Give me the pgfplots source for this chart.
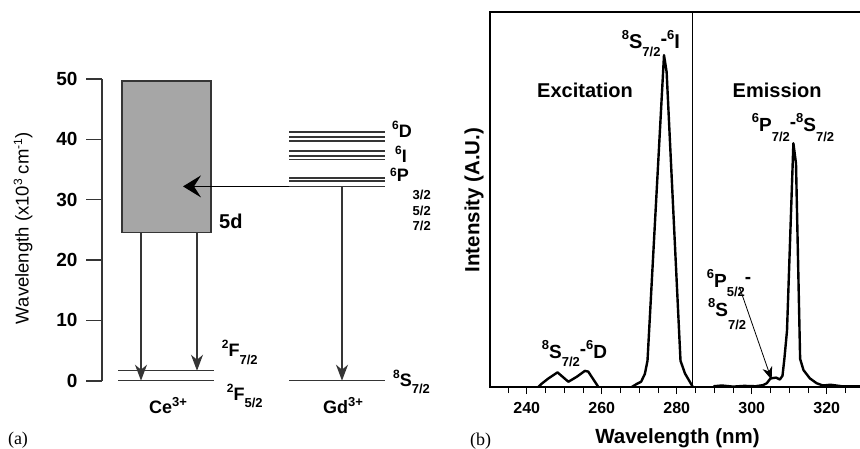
\documentclass[border=0pt]{standalone}
\usepackage{pgfplots}
\pgfplotsset{compat=1.18}
\usepackage{fontspec}
\setmainfont{Liberation Sans}
\newfontfamily\seriffont{Liberation Serif}
\usetikzlibrary{arrows.meta}
\definecolor{lev}{HTML}{353535}
\definecolor{boxfill}{HTML}{A6A6A6}
\newcommand{\fs}[1]{\fontsize{#1}{#1}\selectfont}
\begin{document}
\begin{tikzpicture}[x=1pt,y=1pt]
\path[use as bounding box] (0,0) rectangle (860,448);
\clip (0,0) rectangle (860,448);
% ---------------- panel (a)
\begin{axis}[
  at={(102pt,67.3pt)}, anchor=south west,
  scale only axis, width=328pt, height=301.7pt,
  xmin=102, xmax=430, ymin=0, ymax=50,
  clip=false, no markers,
  axis x line=none, axis y line=left,
  axis line style={-, line width=1.6pt, lev},
  ytick={0,10,20,30,40,50},
  tick align=outside, major tick length=16pt,
  every tick/.style={line width=1.6pt, lev},
  yticklabel style={font=\bfseries\fs{19}, xshift=-5pt},
  /pgf/number format/assume math mode=true,
]
\addplot[draw=lev, line width=1.4pt, fill=boxfill] coordinates {(122,24.6) (211,24.6) (211,49.7) (122,49.7)} --cycle;
\addplot[lev, line width=1.4pt] coordinates {(118,0) (214,0)};
\addplot[lev, line width=1.4pt] coordinates {(118,1.65) (214,1.65)};
\addplot[lev, line width=1.4pt] coordinates {(289,0) (385,0)};
\foreach \v in {41.2,40.4,39.7,38.1,37.25,36.65,33.6,33.1,32.2}{
  \addplot[lev, line width=1.4pt] coordinates {(289,\v) (385,\v)};
}
\addplot[lev, line width=1.3pt, -{Stealth[length=16pt,width=12pt,inset=5pt]}] coordinates {(141,24.6) (141,0)};
\addplot[lev, line width=1.3pt, -{Stealth[length=16pt,width=12pt,inset=5pt]}] coordinates {(197,24.6) (197,1.65)};
\addplot[lev, line width=1.3pt, -{Stealth[length=16pt,width=12pt,inset=5pt]}] coordinates {(342,32.2) (342,0)};
\addplot[black, line width=1.3pt, -{Stealth[length=18pt,width=22pt,inset=7pt]}] coordinates {(289,32.2) (183,32.2)};
\end{axis}
\node[anchor=base west, inner sep=0, font=\bfseries\fs{18}] at (392,310) {\raisebox{8pt}{\fs{12}6}D};
\node[anchor=base west, inner sep=0, font=\bfseries\fs{18}] at (395,285) {\raisebox{8pt}{\fs{12}6}I};
\node[anchor=base west, inner sep=0, font=\bfseries\fs{18}] at (390,266.5) {\raisebox{4.5pt}{\fs{12}6}P};
\node[anchor=base west, inner sep=0, font=\bfseries\fs{13}] at (412.5,248) {3/2};
\node[anchor=base west, inner sep=0, font=\bfseries\fs{13}] at (412.5,233) {5/2};
\node[anchor=base west, inner sep=0, font=\bfseries\fs{13}] at (412.5,218) {7/2};
\node[anchor=base west, inner sep=0, font=\bfseries\fs{20}] at (219,219.7) {5d};
\node[anchor=base west, inner sep=0, font=\bfseries\fs{18}] at (221.7,91.3) {\raisebox{8pt}{\fs{12}2}F\raisebox{-8pt}{\fs{13}7/2}};
\node[anchor=base west, inner sep=0, font=\bfseries\fs{18}] at (226.7,48) {\raisebox{8pt}{\fs{12}2}F\raisebox{-7pt}{\fs{13}5/2}};
\node[anchor=base west, inner sep=0, font=\bfseries\fs{18}] at (393,61.3) {\raisebox{8pt}{\fs{12}8}S\raisebox{-6.5pt}{\fs{13}7/2}};
\node[anchor=base, inner sep=0, font=\bfseries\fs{18}] at (168,34.7) {Ce\raisebox{7pt}{\fs{13}3+}};
\node[anchor=base, inner sep=0, font=\bfseries\fs{18}] at (343,34.7) {Gd\raisebox{7pt}{\fs{13}3+}};
\node[rotate=90, inner sep=0, font=\fs{18.5}] at (23,219.7) {Wavelength (x10\raisebox{6.5pt}{\fs{12}3} cm\raisebox{6.5pt}{\fs{12}-1})};
\node[inner sep=0, font=\seriffont\fs{18}] at (18,8) {(a)};
% ---------------- panel (b)
\begin{axis}[
  at={(490pt,61pt)}, anchor=south west,
  scale only axis, width=393pt, height=375pt,
  xmin=230.2, xmax=335, ymin=0, ymax=100,
  no markers,
  axis line style={line width=1.2pt},
  xtick={240,260,280,300,320},
  minor xtick={235,245,250,255,265,270,275,285,290,295,305,310,315,325,330},
  ytick=\empty, xtick pos=left,
  tick align=outside, major tick length=7pt, minor tick length=6pt,
  every tick/.style={line width=1pt, black},
  xticklabel style={font=\bfseries\fs{16}, yshift=-5pt},
  /pgf/number format/assume math mode=true,
]
\addplot[black, line width=2.4pt, line join=round] coordinates {
(243.1,0) (244,0.9) (245.8,2.3) (248.2,3.9) (251.1,1.4) (253.3,2.7) (255.5,4.3) (256.4,4.1) (259.1,0)};
\addplot[black, line width=2.4pt, line join=round] coordinates {
(268,0) (269.3,0.8) (270.5,1.4) (271.5,3.5) (272.2,7) (276.6,88.5) (277.3,84) (281,7) (282.2,3.6) (284.3,0)};
\addplot[black, line width=2.4pt, line join=round] coordinates {
(289.8,0.2) (292,0.4) (295,0.1) (298,0.3) (301,0.2) (303,0.5) (304,1) (305,2.3) (306.5,2.5) (307.5,2.0) (308.2,3) (308.7,7.5) (309.4,15) (311.1,65) (311.8,59.6) (312.9,7.5) (313.8,4.5) (315.5,2.3) (317.3,1) (319,0.4) (321,0.6) (324,0.2) (329,0.2)};
\addplot[black, line width=1.2pt] coordinates {(284.1,0) (284.1,100)};
\addplot[black, line width=0.8pt, -{Stealth[length=13pt,width=10pt,inset=4pt]}] coordinates {(296.7,26.7) (305.3,1.9)};
\end{axis}
\node[anchor=base, inner sep=0, font=\bfseries\fs{20}] at (585,350.7) {Excitation};
\node[anchor=base, inner sep=0, font=\bfseries\fs{20}] at (777.2,350.7) {Emission};
\node[anchor=base west, inner sep=0, font=\bfseries\fs{20}] at (621.7,399.7) {\raisebox{9pt}{\fs{13}8}S\raisebox{-8.4pt}{\fs{13}7/2}\raisebox{3pt}{-}\raisebox{9pt}{\fs{13}6}I};
\node[anchor=base west, inner sep=0, font=\bfseries\fs{19}] at (751.7,316.3) {\raisebox{9pt}{\fs{13}6}P\raisebox{-10pt}{\fs{13}7/2}\raisebox{3pt}{-}\raisebox{9pt}{\fs{13}8}S\raisebox{-10pt}{\fs{13}7/2}};
\node[anchor=base west, inner sep=0, font=\bfseries\fs{19}] at (706.7,161) {\raisebox{9pt}{\fs{13}6}P\raisebox{-9.7pt}{\fs{13}5/2}\raisebox{4pt}{-}};
\node[anchor=base west, inner sep=0, font=\bfseries\fs{19}] at (708,131.3) {\raisebox{9pt}{\fs{13}8}S\raisebox{-13pt}{\fs{13}7/2}};
\node[anchor=base west, inner sep=0, font=\bfseries\fs{19}] at (541.7,89.7) {\raisebox{9pt}{\fs{13}8}S\raisebox{-8.4pt}{\fs{13}7/2}\raisebox{3pt}{-}\raisebox{9pt}{\fs{13}6}D};
\node[anchor=base, inner sep=0, font=\bfseries\fs{20.5}] at (677.5,5) {Wavelength (nm)};
\node[rotate=90, inner sep=0, font=\bfseries\fs{20.5}] at (474,248) {Intensity (A.U.)};
\node[inner sep=0, font=\seriffont\fs{18}] at (480.5,6.5) {(b)};
\end{tikzpicture}
\end{document}
